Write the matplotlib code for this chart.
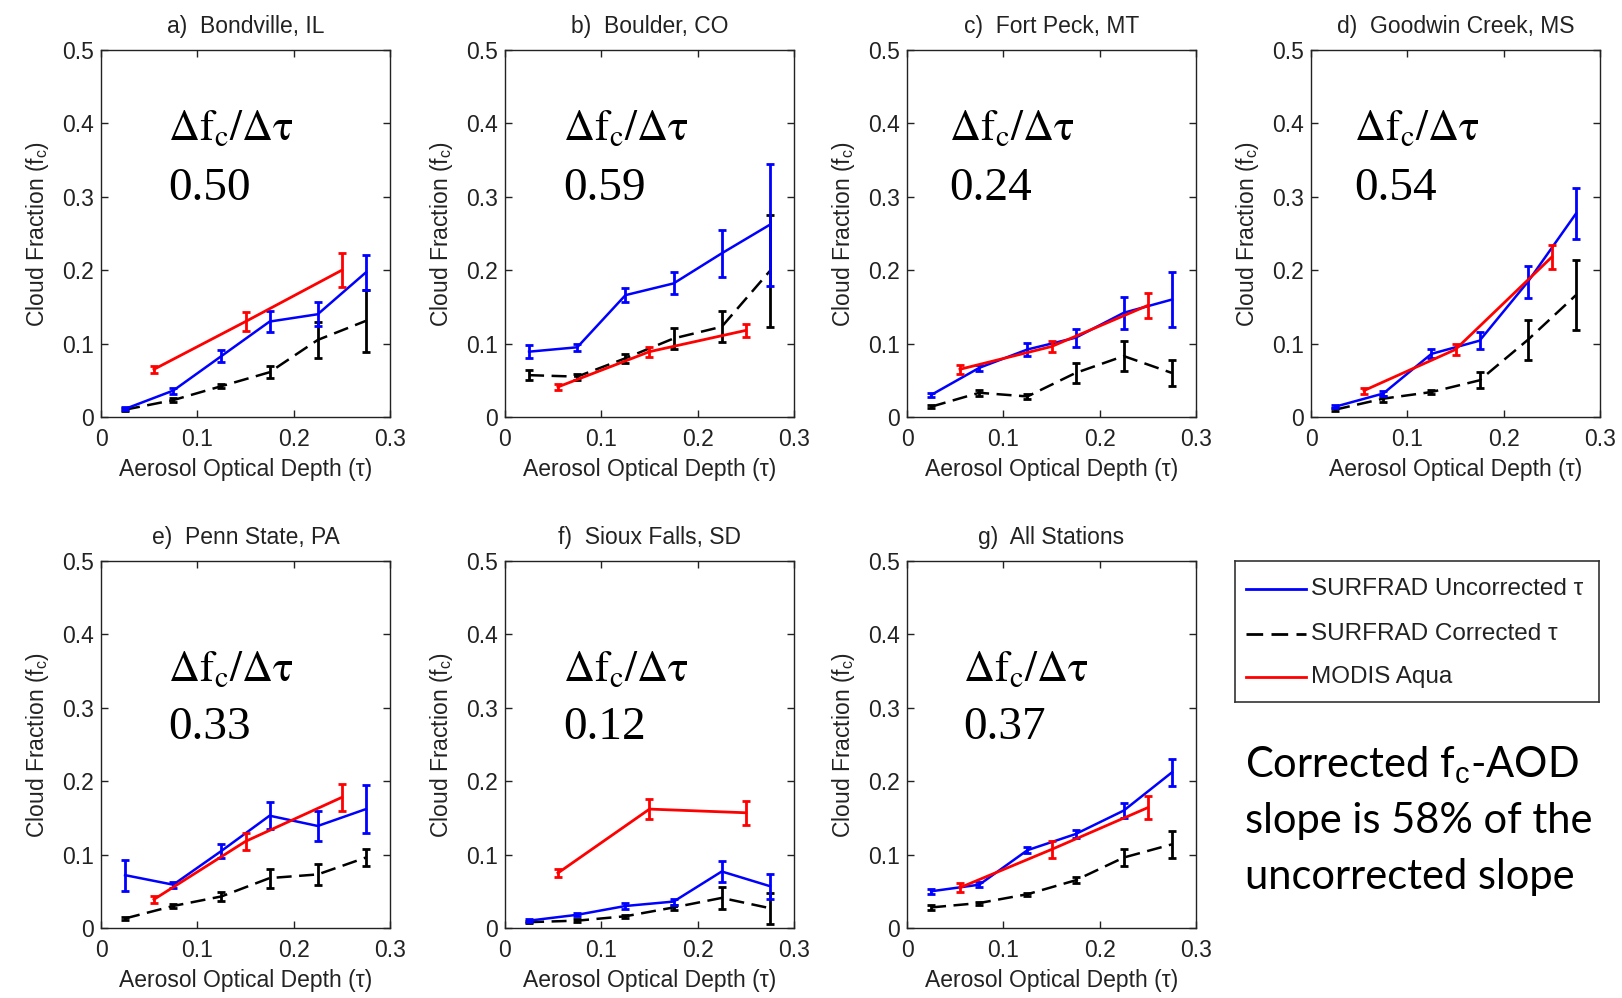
import matplotlib
matplotlib.use("Agg")
import matplotlib.pyplot as plt
import numpy as np

plt.rcParams['font.family'] = ['Liberation Sans', 'DejaVu Sans']
plt.rcParams['mathtext.fontset'] = 'custom'
plt.rcParams['mathtext.rm'] = 'Liberation Sans'
plt.rcParams['mathtext.it'] = 'Liberation Sans:italic'

# ---------------- data ----------------
titles = ["a)  Bondville, IL", "b)  Boulder, CO", "c)  Fort Peck, MT", "d)  Goodwin Creek, MS",
          "e)  Penn State, PA", "f)  Sioux Falls, SD", "g)  All Stations"]
slopes = ["0.50", "0.59", "0.24", "0.54", "0.33", "0.12", "0.37"]

aod_surf = [0.025, 0.075, 0.125, 0.175, 0.225, 0.275]
aod_modis = [0.055, 0.15, 0.25]

# SURFRAD uncorrected (blue)
unc_val = [
    [0.011, 0.036, 0.083, 0.130, 0.140, 0.197],
    [0.089, 0.095, 0.166, 0.182, 0.223, 0.262],
    [0.030, 0.067, 0.092, 0.108, 0.142, 0.160],
    [0.014, 0.032, 0.086, 0.104, 0.184, 0.277],
    [0.072, 0.059, 0.105, 0.153, 0.139, 0.162],
    [0.010, 0.018, 0.030, 0.036, 0.077, 0.057],
    [0.050, 0.059, 0.106, 0.128, 0.160, 0.212],
]
unc_err = [
    [0.002, 0.004, 0.008, 0.014, 0.016, 0.024],
    [0.009, 0.005, 0.010, 0.015, 0.032, 0.083],
    [0.003, 0.004, 0.009, 0.012, 0.022, 0.037],
    [0.002, 0.004, 0.006, 0.012, 0.022, 0.035],
    [0.021, 0.004, 0.010, 0.018, 0.020, 0.033],
    [0.002, 0.002, 0.004, 0.004, 0.014, 0.017],
    [0.003, 0.003, 0.004, 0.005, 0.010, 0.018],
]
# SURFRAD corrected (black dashed)
cor_val = [
    [0.010, 0.023, 0.042, 0.061, 0.105, 0.131],
    [0.057, 0.055, 0.080, 0.107, 0.123, 0.199],
    [0.014, 0.033, 0.028, 0.060, 0.083, 0.060],
    [0.010, 0.025, 0.034, 0.050, 0.105, 0.166],
    [0.013, 0.030, 0.043, 0.068, 0.073, 0.096],
    [0.008, 0.010, 0.016, 0.028, 0.041, 0.027],
    [0.028, 0.034, 0.046, 0.065, 0.096, 0.114],
]
cor_err = [
    [0.002, 0.003, 0.003, 0.008, 0.024, 0.042],
    [0.007, 0.004, 0.006, 0.014, 0.021, 0.076],
    [0.002, 0.004, 0.003, 0.013, 0.021, 0.018],
    [0.002, 0.004, 0.003, 0.011, 0.027, 0.048],
    [0.002, 0.003, 0.006, 0.013, 0.014, 0.012],
    [0.001, 0.002, 0.002, 0.004, 0.015, 0.021],
    [0.003, 0.002, 0.002, 0.004, 0.011, 0.018],
]
# MODIS Aqua (red)
mod_val = [
    [0.065, 0.130, 0.200],
    [0.041, 0.089, 0.118],
    [0.065, 0.096, 0.152],
    [0.036, 0.092, 0.218],
    [0.039, 0.118, 0.178],
    [0.075, 0.162, 0.157],
    [0.055, 0.107, 0.164],
]
mod_err = [
    [0.005, 0.013, 0.023],
    [0.004, 0.007, 0.009],
    [0.006, 0.008, 0.017],
    [0.004, 0.007, 0.016],
    [0.005, 0.012, 0.018],
    [0.006, 0.014, 0.016],
    [0.006, 0.011, 0.016],
]

# annotation positions (data coords) per panel
ann_x = [0.070, 0.060, 0.044, 0.045, 0.070, 0.060, 0.058]
ann_y1 = [0.377, 0.377, 0.377, 0.377, 0.337, 0.337, 0.337]
ann_y2 = [0.296, 0.296, 0.296, 0.296, 0.258, 0.258, 0.258]

# ---------------- figure ----------------
W, H = 1622, 998
fig = plt.figure(figsize=(W / 100, H / 100), dpi=100)

lefts = [101, 505, 907, 1311]
row_tops = [50, 561]
aw, ah = 289, 367

tcol = '#222222'
fs = 16.5
for i in range(7):
    r, c = divmod(i, 4)
    l = lefts[c]
    t = row_tops[r]
    ax = fig.add_axes([l / W, 1 - (t + ah) / H, aw / W, ah / H])
    ax.errorbar(aod_surf, unc_val[i], yerr=unc_err[i], color='#0000ff', lw=1.8,
                elinewidth=2.0, capsize=3, capthick=2.0, zorder=3)
    ax.errorbar(aod_surf, cor_val[i], yerr=cor_err[i], color='black', lw=1.8,
                dashes=(6, 3), elinewidth=2.0, capsize=3, capthick=2.0, zorder=2)
    ax.errorbar(aod_modis, mod_val[i], yerr=mod_err[i], color='#ff0000', lw=2.0,
                elinewidth=2.0, capsize=3, capthick=2.0, zorder=4)
    ax.set_xlim(0, 0.3)
    ax.set_ylim(0, 0.5)
    ax.set_xticks([0, 0.1, 0.2, 0.3])
    ax.set_xticklabels(['0', '0.1', '0.2', '0.3'])
    ax.set_yticks([0, 0.1, 0.2, 0.3, 0.4, 0.5])
    ax.set_yticklabels(['0', '0.1', '0.2', '0.3', '0.4', '0.5'])
    ax.tick_params(direction='in', top=True, right=True, length=5, width=1,
                   labelsize=fs, labelcolor=tcol, colors='#222222')
    ax.tick_params(axis='x', pad=8)
    ax.tick_params(axis='y', pad=5)
    for sp in ax.spines.values():
        sp.set_linewidth(1.0)
        sp.set_color('#222222')
    ax.set_xlabel(u'Aerosol Optical Depth (\u03c4)', fontsize=fs, color=tcol, labelpad=5)
    ax.set_ylabel(r'Cloud Fraction (f$_\mathrm{c}$)', fontsize=fs, color=tcol, labelpad=8)
    ax.set_title(titles[i], fontsize=fs, color=tcol, pad=12)
    ax.text(ann_x[i], ann_y1[i], r'$\mathrm{\Delta f_c/\Delta \tau}$', fontsize=31,
            math_fontfamily='stix', color='black', ha='left', va='baseline')
    ax.text(ann_x[i], ann_y2[i], slopes[i], fontsize=34, family='Liberation Serif',
            color='black', ha='left', va='baseline')

# legend panel
lx0, ly0, lx1, ly1 = 1235, 561, 1599, 702
lax = fig.add_axes([lx0 / W, 1 - ly1 / H, (lx1 - lx0) / W, (ly1 - ly0) / H])
lax.set_xlim(0, 1)
lax.set_ylim(0, 1)
lax.set_xticks([])
lax.set_yticks([])
for sp in lax.spines.values():
    sp.set_linewidth(1.2)
    sp.set_color('#333333')
labels = [u'SURFRAD Uncorrected \u03c4', u'SURFRAD Corrected \u03c4', 'MODIS Aqua']
styles = [dict(color='#0000ff'), dict(color='black', dashes=(6, 3)), dict(color='#ff0000')]
ys = [0.80, 0.48, 0.18]
for lab, st, yy in zip(labels, styles, ys):
    lax.plot([0.03, 0.195], [yy, yy], lw=2.0, **st)
    lax.text(0.21, yy, lab, fontsize=17.5, color=tcol, va='center', ha='left')

fig.text(1245 / W, 1 - 765 / H, r'Corrected f$_\mathrm{c}$-AOD', fontsize=30,
         family='Lato', va='center', ha='left', math_fontfamily='custom')
fig.text(1245 / W, 1 - 821 / H, 'slope is 58% of the', fontsize=30,
         family='Lato', va='center', ha='left')
fig.text(1245 / W, 1 - 877 / H, 'uncorrected slope', fontsize=30,
         family='Lato', va='center', ha='left')

fig.savefig('out.png', dpi=100)
